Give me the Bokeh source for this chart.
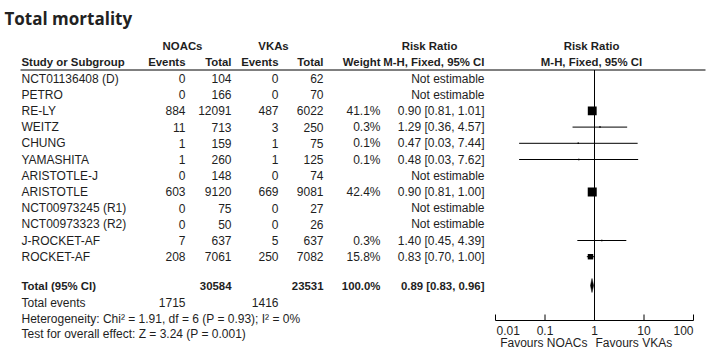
import math
from bokeh.plotting import figure
from bokeh.models import Range1d, LogScale
from bokeh.core.properties import value
from bokeh.embed import file_html
from bokeh.resources import INLINE

# ---------------- data ----------------
title = "Total mortality"
group1 = "NOACs"
group2 = "VKAs"
studies = ["NCT01136408 (D)", "PETRO", "RE-LY", "WEITZ", "CHUNG", "YAMASHITA",
           "ARISTOTLE-J", "ARISTOTLE", "NCT00973245 (R1)", "NCT00973323 (R2)",
           "J-ROCKET-AF", "ROCKET-AF"]
noac_events = [0, 0, 884, 11, 1, 1, 0, 603, 0, 0, 7, 208]
noac_total = [104, 166, 12091, 713, 159, 260, 148, 9120, 75, 50, 637, 7061]
vka_events = [0, 0, 487, 3, 1, 1, 0, 669, 0, 0, 5, 250]
vka_total = [62, 70, 6022, 250, 75, 125, 74, 9081, 27, 26, 637, 7082]
weight = [None, None, 41.1, 0.3, 0.1, 0.1, None, 42.4, None, None, 0.3, 15.8]
rr = [None, None, 0.90, 1.29, 0.47, 0.48, None, 0.90, None, None, 1.40, 0.83]
ci_low = [None, None, 0.81, 0.36, 0.03, 0.03, None, 0.81, None, None, 0.45, 0.70]
ci_high = [None, None, 1.01, 4.57, 7.44, 7.62, None, 1.00, None, None, 4.39, 1.00]

total_noac_n = 30584
total_vka_n = 23531
total_weight = 100.0
total_rr = 0.89
total_low = 0.83
total_high = 0.96
total_noac_events = 1715
total_vka_events = 1416
het_chi2 = 1.91
het_df = 6
het_p = 0.93
het_i2 = 0
z_value = 3.24
z_p = 0.001
null_value = 1.0
axis_ticks = [0.01, 0.1, 1, 10, 100]
axis_tick_labels = ["0.01", "0.1", "1", "10", "100"]
favours_left = "Favours NOACs"
favours_right = "Favours VKAs"

# ---------------- layout / style ----------------
W, H = 708, 352
FONT = "Liberation Sans"
FS = "12px"
FSB = "11.4px"
TXT = "#1e1e1e"
ROW0, ROW_H = 78.0, 16.2
HDR1_Y, HDR2_Y, LINE_Y = 45, 61, 69.5
TOTAL_Y, TEV_Y, HET_Y, TEST_Y = 285, 302, 318, 333
AXIS_Y, TICK_LEN, TICKLAB_Y, FAV_Y = 320, 6, 330, 342
X_STUDY, X_E1, X_T1, X_E2, X_T2, X_W, X_CI = 21, 185, 231, 278, 323, 380, 484
X_PLOT0, X_PLOT1 = 495, 693   # pixel positions of first/last tick
X_LINE_END = 705

row_y = [ROW0 + ROW_H * i for i in range(len(studies))]


def fmt_ci(r, lo, hi):
    if r is None:
        return "Not estimable"
    return f"{r:.2f} [{lo:.2f}, {hi:.2f}]"


dec_px = (X_PLOT1 - X_PLOT0) / (math.log10(axis_ticks[-1]) - math.log10(axis_ticks[0]))
lg0 = math.log10(axis_ticks[0]) - X_PLOT0 / dec_px
lg1 = math.log10(axis_ticks[-1]) + (W - X_PLOT1) / dec_px

p = figure(width=W, height=H, x_range=Range1d(0, W), y_range=Range1d(H, 0),
           output_backend="svg", toolbar_location=None, min_border=0,
           x_axis_location=None, y_axis_location=None, outline_line_color=None)
p.xgrid.grid_line_color = None
p.ygrid.grid_line_color = None
p.extra_x_ranges = {"forest": Range1d(10 ** lg0, 10 ** lg1)}
p.extra_x_scales = {"forest": LogScale()}


def put(x, y, text, align="left", bold=False, size=None, font=FONT, color=TXT,
        x_range_name="default", x_offset=0):
    n = max(len(v) if isinstance(v, list) else 1 for v in (x, y, text))
    def bc(v):
        return v if isinstance(v, list) else [v] * n
    p.text(x=bc(x), y=bc(y), text=bc(text),
           text_align=align, text_baseline="middle",
           text_font=value(font), text_font_size=size or (FSB if bold else FS),
           text_font_style="bold" if bold else "normal", text_color=color,
           x_range_name=x_range_name, x_offset=x_offset)


# title
put(4, 18, title, bold=True, size="17px", font="Open Sans", color="#222222")

# headers
put(182, HDR1_Y, group1, "center", True)
put(273, HDR1_Y, group2, "center", True)
put(429, HDR1_Y, "Risk Ratio", "center", True)
put(X_STUDY, HDR2_Y, "Study or Subgroup", "left", True)
put(X_E1, HDR2_Y, "Events", "right", True)
put(X_T1, HDR2_Y, "Total", "right", True)
put(X_E2, HDR2_Y, "Events", "right", True)
put(X_T2, HDR2_Y, "Total", "right", True)
put(X_W, HDR2_Y, "Weight", "right", True)
put(X_CI, HDR2_Y, "M-H, Fixed, 95% CI", "right", True)
put(null_value, HDR1_Y, "Risk Ratio", "center", True, x_range_name="forest", x_offset=-3)
put(null_value, HDR2_Y, "M-H, Fixed, 95% CI", "center", True, x_range_name="forest", x_offset=-3)
p.segment(x0=[X_STUDY - 1], y0=[LINE_Y], x1=[X_LINE_END], y1=[LINE_Y],
          line_color="black", line_width=1)

# study rows
put(X_STUDY, row_y, studies)
put(X_E1, row_y, [str(v) for v in noac_events], "right")
put(X_T1, row_y, [str(v) for v in noac_total], "right")
put(X_E2, row_y, [str(v) for v in vka_events], "right")
put(X_T2, row_y, [str(v) for v in vka_total], "right")
put(X_W, row_y, ["" if w is None else f"{w:.1f}%" for w in weight], "right")
put(X_CI, row_y, [fmt_ci(r, a, b) for r, a, b in zip(rr, ci_low, ci_high)], "right")

# totals
put(X_STUDY, TOTAL_Y, "Total (95% CI)", "left", True)
put(X_T1, TOTAL_Y, str(total_noac_n), "right", True)
put(X_T2, TOTAL_Y, str(total_vka_n), "right", True)
put(X_W, TOTAL_Y, f"{total_weight:.1f}%", "right", True)
put(X_CI, TOTAL_Y, fmt_ci(total_rr, total_low, total_high), "right", True)
put(X_STUDY, TEV_Y, "Total events")
put(X_E1, TEV_Y, str(total_noac_events), "right")
put(X_E2, TEV_Y, str(total_vka_events), "right")
put(X_STUDY, HET_Y,
    f"Heterogeneity: Chi\u00b2 = {het_chi2:.2f}, df = {het_df} (P = {het_p:.2f}); I\u00b2 = {het_i2}%")
put(X_STUDY, TEST_Y, f"Test for overall effect: Z = {z_value:.2f} (P = {z_p})")

# ---------------- forest panel (log scale) ----------------
F = dict(x_range_name="forest")
p.segment(x0=[null_value], y0=[LINE_Y], x1=[null_value], y1=[AXIS_Y],
          line_color="black", line_width=1, **F)

est = [i for i, r in enumerate(rr) if r is not None]
p.segment(x0=[ci_low[i] for i in est], y0=[row_y[i] for i in est],
          x1=[ci_high[i] for i in est], y1=[row_y[i] for i in est],
          line_color="black", line_width=1, **F)
sizes = [max(1.5, 9.0 * math.sqrt(weight[i] / 42.4)) for i in est]
p.scatter(x=[rr[i] for i in est], y=[row_y[i] for i in est], size=sizes,
          marker="square", fill_color="black", line_color=None, **F)

DH = 7
p.patch(x=[total_low, total_rr, total_high, total_rr],
        y=[TOTAL_Y, TOTAL_Y - DH, TOTAL_Y, TOTAL_Y + DH],
        fill_color="black", line_color="black", line_width=0.5, **F)

# log axis for the forest panel
p.segment(x0=[axis_ticks[0]], y0=[AXIS_Y], x1=[axis_ticks[-1]], y1=[AXIS_Y],
          line_color="black", line_width=1, **F)
p.segment(x0=axis_ticks, y0=[AXIS_Y] * len(axis_ticks), x1=axis_ticks,
          y1=[AXIS_Y - TICK_LEN] * len(axis_ticks), line_color="black", line_width=1, **F)
put(axis_ticks[0], TICKLAB_Y, axis_tick_labels[0], "left", x_range_name="forest", x_offset=1)
put(axis_ticks[1:-1], TICKLAB_Y, axis_tick_labels[1:-1], "center", x_range_name="forest")
put(axis_ticks[-1], TICKLAB_Y, axis_tick_labels[-1], "right", x_range_name="forest")
put(null_value, FAV_Y, favours_left, "right", x_range_name="forest", x_offset=-7)
put(null_value, FAV_Y, favours_right, "left", x_range_name="forest", x_offset=1)

open("out.html", "w").write(file_html(p, INLINE))
